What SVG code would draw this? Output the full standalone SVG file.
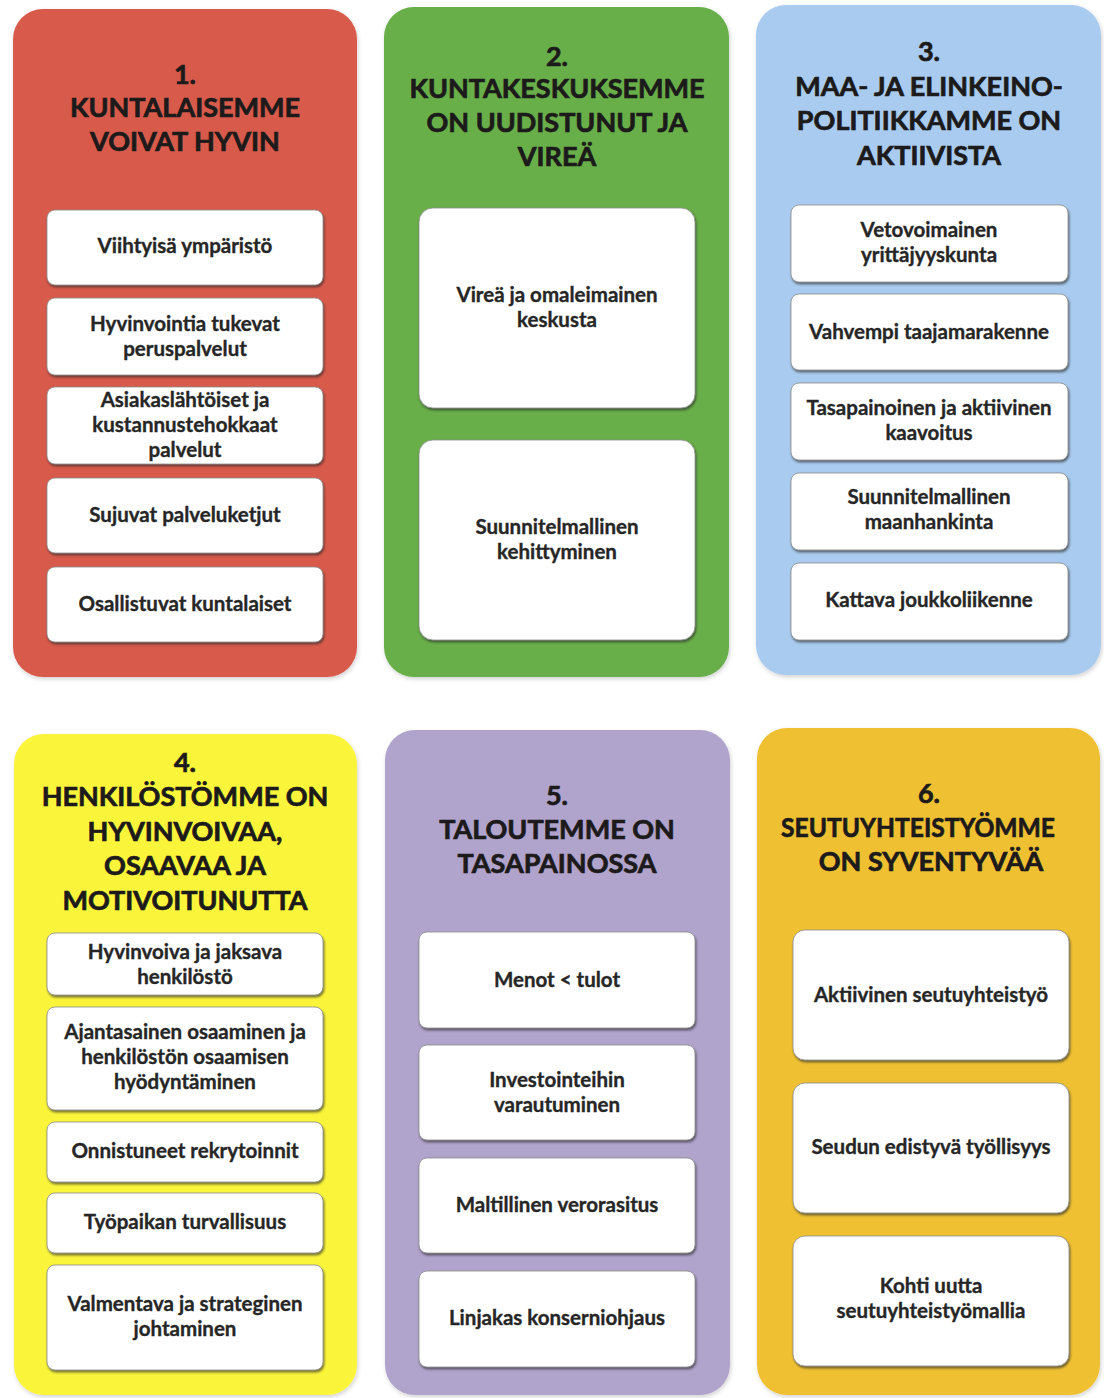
<svg xmlns="http://www.w3.org/2000/svg" width="1104" height="1398" viewBox="0 0 1104 1398">
  <defs>
    <filter id="panelShadow" x="-5%" y="-5%" width="110%" height="110%">
      <feDropShadow dx="1" dy="2" stdDeviation="2" flood-color="#000" flood-opacity="0.18"/>
    </filter>
    <filter id="boxShadow" x="-5%" y="-10%" width="110%" height="125%">
      <feDropShadow dx="1" dy="2" stdDeviation="1.2" flood-color="#2a2a2a" flood-opacity="0.65"/>
    </filter>
  </defs>
  <style>
    .panel { filter: url(#panelShadow); }
    .box { fill: #ffffff; stroke: #8a8a8a; stroke-width: 0.8; filter: url(#boxShadow); }
    .head { font-family: Lato, "Open Sans", "Liberation Sans", sans-serif; font-weight: 700; font-size: 27px; fill: #1c1a1a; stroke: #1c1a1a; stroke-width: 0.7; text-anchor: middle; }
    .item { font-family: Lato, "Open Sans", "Liberation Sans", sans-serif; font-weight: 700; font-size: 20.5px; fill: #262626; stroke: #262626; stroke-width: 0.35; text-anchor: middle; }
  </style>

  <rect width="1104" height="1398" fill="#ffffff"/>

  <!-- 1. Kuntalaiset -->
  <g id="goal1">
    <rect class="panel" x="13" y="9" width="344" height="668" rx="30" fill="#d85a4b"/>
    <text class="head" x="185"><tspan x="185" y="84">1.</tspan><tspan x="185" y="117">KUNTALAISEMME</tspan><tspan x="185" y="151">VOIVAT HYVIN</tspan></text>
    <g id="goal1-a"><rect class="box" x="47" y="210" width="276" height="75" rx="8"/><text class="item" x="185" y="253">Viihtyisä ympäristö</text></g>
    <g id="goal1-b"><rect class="box" x="47" y="298" width="276" height="77" rx="8"/><text class="item"><tspan x="185" y="331">Hyvinvointia tukevat</tspan><tspan x="185" y="356">peruspalvelut</tspan></text></g>
    <g id="goal1-c"><rect class="box" x="47" y="387" width="276" height="77" rx="8"/><text class="item"><tspan x="185" y="407">Asiakaslähtöiset ja</tspan><tspan x="185" y="432">kustannustehokkaat</tspan><tspan x="185" y="457">palvelut</tspan></text></g>
    <g id="goal1-d"><rect class="box" x="47" y="478" width="276" height="75" rx="8"/><text class="item" x="185" y="522">Sujuvat palveluketjut</text></g>
    <g id="goal1-e"><rect class="box" x="47" y="567" width="276" height="75" rx="8"/><text class="item" x="185" y="611">Osallistuvat kuntalaiset</text></g>
  </g>

  <!-- 2. Kuntakeskus -->
  <g id="goal2">
    <rect class="panel" x="384" y="7" width="345" height="670" rx="30" fill="#67ae4a"/>
    <text class="head"><tspan x="557" y="66">2.</tspan><tspan x="557" y="98">KUNTAKESKUKSEMME</tspan><tspan x="557" y="132">ON UUDISTUNUT JA</tspan><tspan x="557" y="166">VIREÄ</tspan></text>
    <g id="goal2-a"><rect class="box" x="419" y="208" width="276" height="200" rx="14"/><text class="item"><tspan x="557" y="302">Vireä ja omaleimainen</tspan><tspan x="557" y="327">keskusta</tspan></text></g>
    <g id="goal2-b"><rect class="box" x="419" y="440" width="276" height="200" rx="14"/><text class="item"><tspan x="557" y="534">Suunnitelmallinen</tspan><tspan x="557" y="559">kehittyminen</tspan></text></g>
  </g>

  <!-- 3. Maa- ja elinkeinopolitiikka -->
  <g id="goal3">
    <rect class="panel" x="756" y="5" width="345" height="670" rx="30" fill="#a8cbef"/>
    <text class="head"><tspan x="929" y="61">3.</tspan><tspan x="929" y="96">MAA- JA ELINKEINO-</tspan><tspan x="929" y="130">POLITIIKKAMME ON</tspan><tspan x="929" y="165">AKTIIVISTA</tspan></text>
    <g id="goal3-a"><rect class="box" x="791" y="205" width="277" height="77" rx="8"/><text class="item"><tspan x="929" y="237">Vetovoimainen</tspan><tspan x="929" y="262">yrittäjyyskunta</tspan></text></g>
    <g id="goal3-b"><rect class="box" x="791" y="294" width="277" height="76" rx="8"/><text class="item" x="929" y="339">Vahvempi taajamarakenne</text></g>
    <g id="goal3-c"><rect class="box" x="791" y="383" width="277" height="77" rx="8"/><text class="item"><tspan x="929" y="415">Tasapainoinen ja aktiivinen</tspan><tspan x="929" y="440">kaavoitus</tspan></text></g>
    <g id="goal3-d"><rect class="box" x="791" y="473" width="277" height="77" rx="8"/><text class="item"><tspan x="929" y="504">Suunnitelmallinen</tspan><tspan x="929" y="529">maanhankinta</tspan></text></g>
    <g id="goal3-e"><rect class="box" x="791" y="563" width="277" height="77" rx="8"/><text class="item" x="929" y="607">Kattava joukkoliikenne</text></g>
  </g>

  <!-- 4. Henkilöstö -->
  <g id="goal4">
    <rect class="panel" x="14" y="734" width="343" height="661" rx="30" fill="#faf43a"/>
    <text class="head"><tspan x="185" y="772">4.</tspan><tspan x="185" y="806">HENKILÖSTÖMME ON</tspan><tspan x="185" y="841">HYVINVOIVAA,</tspan><tspan x="185" y="875">OSAAVAA JA</tspan><tspan x="185" y="910">MOTIVOITUNUTTA</tspan></text>
    <g id="goal4-a"><rect class="box" x="47" y="933" width="276" height="62" rx="8"/><text class="item"><tspan x="185" y="959">Hyvinvoiva ja jaksava</tspan><tspan x="185" y="984">henkilöstö</tspan></text></g>
    <g id="goal4-b"><rect class="box" x="47" y="1007" width="276" height="103" rx="8"/><text class="item"><tspan x="185" y="1039">Ajantasainen osaaminen ja</tspan><tspan x="185" y="1064">henkilöstön osaamisen</tspan><tspan x="185" y="1089">hyödyntäminen</tspan></text></g>
    <g id="goal4-c"><rect class="box" x="47" y="1122" width="276" height="60" rx="8"/><text class="item" x="185" y="1158">Onnistuneet rekrytoinnit</text></g>
    <g id="goal4-d"><rect class="box" x="47" y="1193" width="276" height="60" rx="8"/><text class="item" x="185" y="1229">Työpaikan turvallisuus</text></g>
    <g id="goal4-e"><rect class="box" x="47" y="1265" width="276" height="105" rx="8"/><text class="item"><tspan x="185" y="1311">Valmentava ja strateginen</tspan><tspan x="185" y="1336">johtaminen</tspan></text></g>
  </g>

  <!-- 5. Talous -->
  <g id="goal5">
    <rect class="panel" x="385" y="730" width="345" height="665" rx="30" fill="#b0a3cc"/>
    <text class="head"><tspan x="557" y="805">5.</tspan><tspan x="557" y="839">TALOUTEMME ON</tspan><tspan x="557" y="873">TASAPAINOSSA</tspan></text>
    <g id="goal5-a"><rect class="box" x="419" y="932" width="276" height="96" rx="8"/><text class="item" x="557" y="987">Menot &lt; tulot</text></g>
    <g id="goal5-b"><rect class="box" x="419" y="1045" width="276" height="95" rx="8"/><text class="item"><tspan x="557" y="1087">Investointeihin</tspan><tspan x="557" y="1112">varautuminen</tspan></text></g>
    <g id="goal5-c"><rect class="box" x="419" y="1158" width="276" height="95" rx="8"/><text class="item" x="557" y="1212">Maltillinen verorasitus</text></g>
    <g id="goal5-d"><rect class="box" x="419" y="1271" width="276" height="96" rx="8"/><text class="item" x="557" y="1325">Linjakas konserniohjaus</text></g>
  </g>

  <!-- 6. Seutuyhteistyö -->
  <g id="goal6">
    <rect class="panel" x="757" y="728" width="343" height="667" rx="30" fill="#efc130"/>
    <text class="head"><tspan x="929" y="803">6.</tspan><tspan x="918" y="837" textLength="274" lengthAdjust="spacingAndGlyphs">SEUTUYHTEISTYÖMME</tspan><tspan x="931" y="871">ON SYVENTYVÄÄ</tspan></text>
    <g id="goal6-a"><rect class="box" x="793" y="930" width="276" height="130" rx="12"/><text class="item" x="931" y="1002">Aktiivinen seutuyhteistyö</text></g>
    <g id="goal6-b"><rect class="box" x="793" y="1083" width="276" height="130" rx="12"/><text class="item" x="931" y="1154">Seudun edistyvä työllisyys</text></g>
    <g id="goal6-c"><rect class="box" x="793" y="1236" width="276" height="130" rx="12"/><text class="item"><tspan x="931" y="1293">Kohti uutta</tspan><tspan x="931" y="1318">seutuyhteistyömallia</tspan></text></g>
  </g>

  <!-- no connectors in this chart -->
  <g id="connectors"/>
</svg>
